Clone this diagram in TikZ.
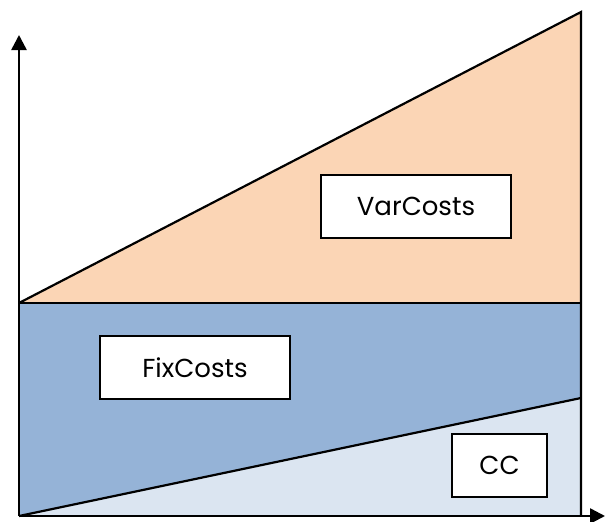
\documentclass[tikz,border=0pt]{standalone}
\usepackage{fontspec}
\setmainfont{Poppins}
\usetikzlibrary{arrows.meta}

\definecolor{varfill}{HTML}{FBD5B5}
\definecolor{fixfill}{HTML}{95B3D7}
\definecolor{ccfill}{HTML}{DBE5F1}

\begin{document}
\begin{tikzpicture}[x=1pt,y=-1pt,
    area/.style = {draw, line width=2.2pt, line join=miter},
    box/.style = {draw, line width=1.6pt, fill=white, inner sep=0pt, minimum height=63pt,
                  font=\fontsize{26}{30}\selectfont},
    axis/.style = {line width=2.5pt, -{Triangle[length=15pt,width=15pt]}}]
    \useasboundingbox (0,0) rectangle (605,522);

    \coordinate (o) at (19,516);
    \coordinate (fl) at (19,303);
    \coordinate (fr) at (581,303);
    \coordinate (vt) at (581,12);
    \coordinate (ct) at (581,398);
    \coordinate (br) at (581,516);

    \fill[fixfill] (fl) rectangle (br);
    \fill[varfill] (fl) -- (vt) -- (fr) -- cycle;
    \fill[ccfill] (o) -- (ct) -- (br) -- cycle;
    \draw[area] (fl) -- (vt) -- (br);
    \draw[area] (fl) -- (fr);
    \draw[area] (o) -- (ct);

    \node[box, minimum width=190pt](var) at (416,206.5){VarCosts};
    \node[box, minimum width=190pt](fix) at (195,367.5){FixCosts};
    \node[box, minimum width=95pt](cc) at (499.5,465.5){CC};

    \coordinate (ytop) at (19,35);
    \coordinate (xend) at (605,516);
    \draw[axis] (o) -- (ytop);
    \draw[axis] (o) -- (xend);
\end{tikzpicture}
\end{document}
